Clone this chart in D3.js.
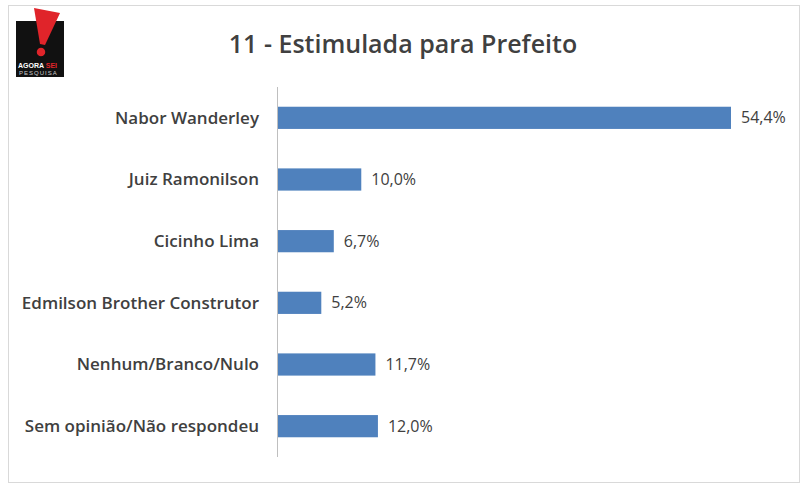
<!DOCTYPE html>
<html><head><meta charset="utf-8">
<script src="https://cdn.jsdelivr.net/npm/d3@7"></script>
<style>body{margin:0;background:#fff}</style>
</head><body>
<svg id="c" width="807" height="488"></svg>
<script>
const names = ['Nabor Wanderley','Juiz Ramonilson','Cicinho Lima','Edmilson Brother Construtor','Nenhum/Branco/Nulo','Sem opinião/Não respondeu'];
const values = [54.4, 10.0, 6.7, 5.2, 11.7, 12.0];

const svg = d3.select('#c');
svg.append('rect').attr('x',8.5).attr('y',5.5).attr('width',791).attr('height',477)
  .attr('fill','#fff').attr('stroke','#d9d9d9');

// logo
const logo = svg.append('g');
logo.append('rect').attr('x',16).attr('y',21).attr('width',48).attr('height',56).attr('fill','#111');
logo.append('path').attr('d','M34 8 L60 13 L45 45 L40 44 Z').attr('fill','#e0242a');
logo.append('circle').attr('cx',41).attr('cy',52).attr('r',5).attr('fill','#e0242a').attr('stroke','#111').attr('stroke-width',1.5);
logo.append('text').attr('x',18).attr('y',68).attr('font-family','Liberation Sans').attr('font-weight','bold').attr('font-size',7).attr('fill','#fff')
  .text('AGORA ').append('tspan').attr('fill','#e0242a').text('SEI');
logo.append('text').attr('x',19).attr('y',75).attr('font-family','Liberation Sans').attr('font-size',6).attr('fill','#ccc').attr('letter-spacing',1).text('PESQUISA');

const font = 'Open Sans, Liberation Sans';
svg.append('text').attr('x',403).attr('y',53).attr('text-anchor','middle')
  .attr('font-family',font).attr('font-weight',600).attr('font-size',25).attr('fill','#404040').text('11 - Estimulada para Prefeito');

const x = d3.scaleLinear().domain([0,54.4]).range([278,731]);
const y = d3.scaleBand().domain(names).range([87,457]).paddingInner(0.64).paddingOuter(0.32);

svg.append('line').attr('x1',277.5).attr('x2',277.5).attr('y1',87).attr('y2',457).attr('stroke','#bfbfbf');

svg.selectAll('rect.bar').data(names).join('rect').attr('class','bar')
  .attr('x',x(0)).attr('y',d=>y(d)).attr('height',y.bandwidth())
  .attr('width',(d,i)=>x(values[i])-x(0)).attr('fill','#4f81bd');

svg.selectAll('text.cat').data(names).join('text').attr('class','cat')
  .attr('x',259).attr('y',d=>y(d)+y.bandwidth()/2).attr('dy','0.35em').attr('text-anchor','end')
  .attr('font-family',font).attr('font-weight',600).attr('font-size',17).attr('fill','#404040').text(d=>d);

svg.selectAll('text.val').data(names).join('text').attr('class','val')
  .attr('x',(d,i)=>x(values[i])+10).attr('y',d=>y(d)+y.bandwidth()/2).attr('dy','0.35em')
  .attr('font-family',font).attr('font-size',16).attr('fill','#404040')
  .text((d,i)=>d3.format('.1f')(values[i]).replace('.',',')+'%');
</script>
</body></html>
